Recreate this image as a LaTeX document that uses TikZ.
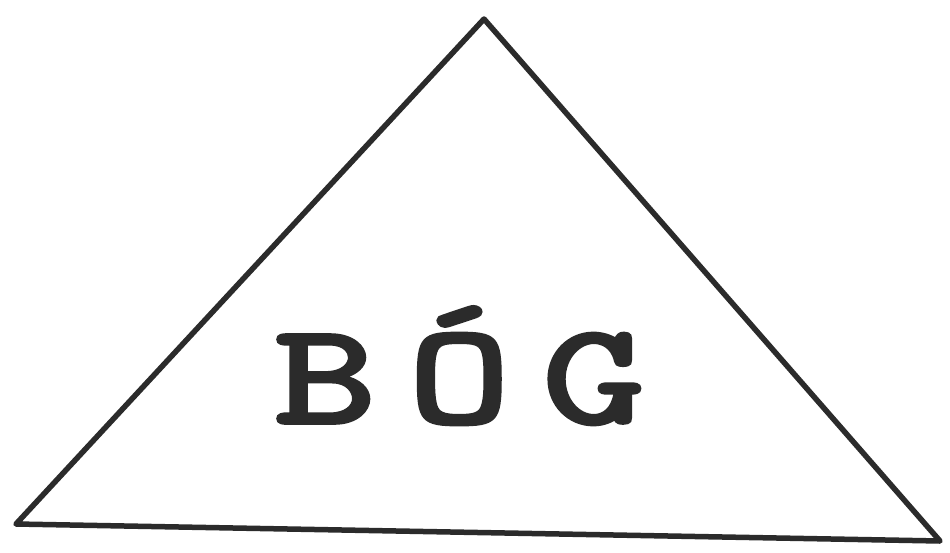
\documentclass[tikz,border=0pt]{standalone}
\usepackage{graphicx}
\usepackage{fontspec}
\newfontfamily\typefont{lmmono10-regular.otf}[LetterSpace=16.5,FakeBold=2.5]
\definecolor{ink}{HTML}{2B2B2B}
\begin{document}
\begin{tikzpicture}[x=1pt,y=-1pt,
  edge/.style={draw=ink,line width=5.5pt,line join=round,line cap=round},
  word/.style={text=ink,font=\typefont\fontsize{144}{144}\selectfont,inner sep=0pt,anchor=base west}]
\useasboundingbox[fill=white] (0,0) rectangle (950,552);
\coordinate (top) at (484,19);
\coordinate (bl) at (16,524);
\coordinate (br) at (940,541);
\draw[edge] (top) -- (br) -- (bl) -- cycle;
\node[word] (god) at (274,423) {\scalebox{1.35}[1]{BÓG}};
\end{tikzpicture}
\end{document}
